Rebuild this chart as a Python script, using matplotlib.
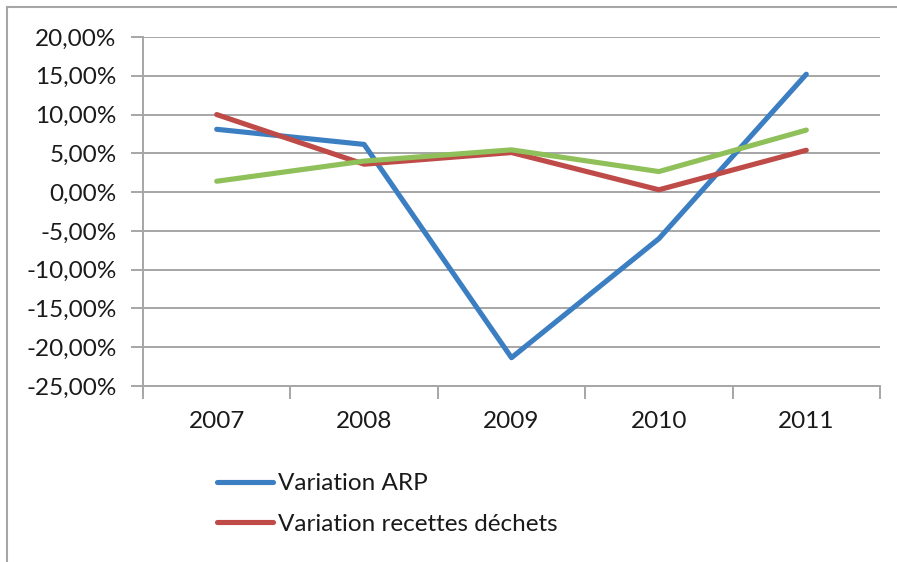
import matplotlib
matplotlib.use("Agg")
import matplotlib.pyplot as plt
from matplotlib.lines import Line2D
from matplotlib.ticker import FuncFormatter, FixedLocator
import numpy as np

years = ["2007", "2008", "2009", "2010", "2011"]
variation_arp = [8.1, 6.15, -21.35, -6.0, 15.2]
variation_recettes = [10.0, 3.6, 5.1, 0.3, 5.4]
variation_autre = [1.4, 4.0, 5.45, 2.65, 8.0]

plt.rcParams["font.family"] = ["Lato", "DejaVu Sans"]

grid_color = "#a6a6a6"
text_color = "#1a1a1a"
fs = 17.5

fig = plt.figure(figsize=(8.97, 5.62), dpi=100)
ax = fig.add_axes([143 / 897, 1 - 386 / 562, 737 / 897, 349 / 562])

x = np.arange(len(years))
lw = 3.7
ax.plot(x, variation_arp, color="#3b7fc2", lw=lw, solid_capstyle="round",
        solid_joinstyle="round", label="Variation ARP", zorder=3)
ax.plot(x, variation_recettes, color="#be4b48", lw=lw, solid_capstyle="round",
        solid_joinstyle="round", label="Variation recettes déchets", zorder=3)
ax.plot(x, variation_autre, color="#8fc05a", lw=lw, solid_capstyle="round",
        solid_joinstyle="round", zorder=4)

ax.set_xlim(-0.5, len(years) - 0.5)
ax.set_ylim(-25, 20)
ax.yaxis.set_major_locator(FixedLocator(np.arange(-25, 20.1, 5)))
ax.yaxis.set_major_formatter(FuncFormatter(lambda v, _: f"{v:.2f}%".replace(".", ",")))
ax.grid(axis="y", color=grid_color, lw=1.4, zorder=0)

ax.set_xticks(x, years)
ax.xaxis.set_minor_locator(FixedLocator(np.arange(-0.5, len(years), 1)))
ax.tick_params(axis="x", which="major", length=0, pad=18, labelsize=fs, labelcolor=text_color)
ax.tick_params(axis="x", which="minor", length=9, width=1.4, color=grid_color)
ax.tick_params(axis="y", length=9, width=1.4, color=grid_color, pad=10,
               labelsize=fs, labelcolor=text_color)

for side in ["top", "right"]:
    ax.spines[side].set_visible(False)
for side in ["left", "bottom"]:
    ax.spines[side].set_color(grid_color)
    ax.spines[side].set_linewidth(1.4)

handles, labels = ax.get_legend_handles_labels()
ax.legend(handles, labels, loc="upper left", bbox_to_anchor=(217 / 897, 1 - 473 / 562),
          bbox_transform=fig.transFigure, frameon=False, fontsize=fs,
          borderpad=0, borderaxespad=0, handlelength=2.3, handletextpad=0.2,
          labelspacing=0.82, labelcolor=text_color)

# chart border (cropped at right and bottom)
fig.add_artist(Line2D([7 / 897, 7 / 897], [0, 1 - 7 / 562], color=grid_color, lw=1.5,
                      transform=fig.transFigure))
fig.add_artist(Line2D([7 / 897, 1], [1 - 7 / 562, 1 - 7 / 562], color=grid_color, lw=1.5,
                      transform=fig.transFigure))

fig.savefig("out.png", dpi=100)
